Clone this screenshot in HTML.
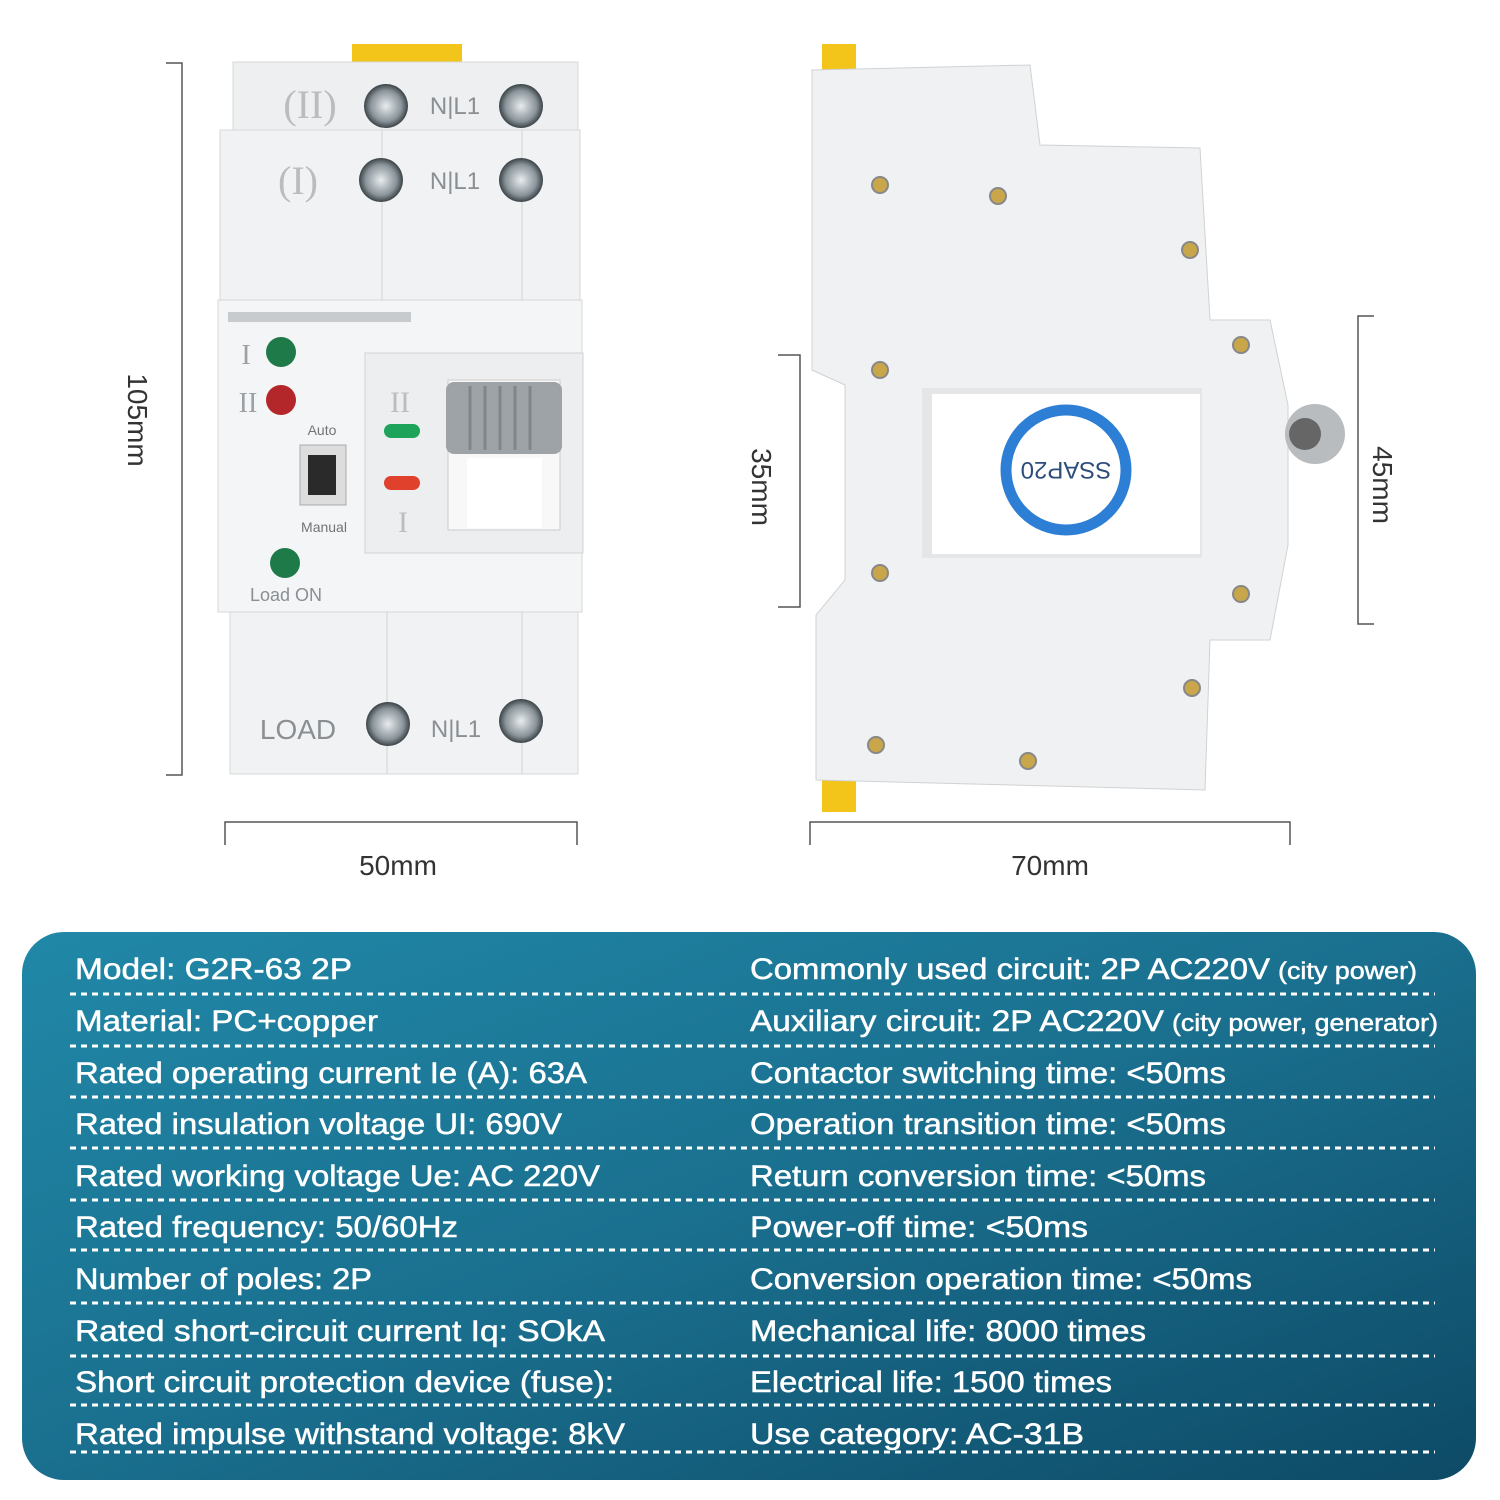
<!DOCTYPE html>
<html><head><meta charset="utf-8"><style>
html,body{margin:0;padding:0;background:#fff}
svg{display:block}
</style></head><body>
<svg width="1500" height="1500" viewBox="0 0 1500 1500" xmlns="http://www.w3.org/2000/svg" font-family="Liberation Sans, sans-serif">
<defs>
<linearGradient id="pg" x1="0" y1="0" x2="1" y2="1">
<stop offset="0" stop-color="#2188a8"/><stop offset="0.5" stop-color="#1a6f8e"/><stop offset="1" stop-color="#0d4a66"/>
</linearGradient>
<radialGradient id="scr"><stop offset="0" stop-color="#e8ecef"/><stop offset="0.7" stop-color="#8a949a"/><stop offset="1" stop-color="#3b4347"/></radialGradient>
</defs>
<rect width="1500" height="1500" fill="#fff"/>

<!-- LEFT DEVICE -->
<rect x="352" y="44" width="110" height="22" fill="#f3c51a"/>
<rect x="233" y="62" width="345" height="70" fill="#eeeff0" stroke="#d6d8da"/>
<rect x="220" y="130" width="360" height="172" fill="#f1f2f3" stroke="#d6d8da"/>
<line x1="382" y1="130" x2="382" y2="302" stroke="#d0d2d4"/>
<line x1="522" y1="130" x2="522" y2="302" stroke="#d0d2d4"/>
<rect x="218" y="300" width="364" height="312" fill="#f4f5f6" stroke="#d6d8da"/>
<rect x="228" y="312" width="183" height="10" fill="#c7cbce"/>
<rect x="365" y="353" width="218" height="200" fill="#eceeef" stroke="#d0d2d4"/>
<rect x="448" y="380" width="112" height="150" fill="#f8f8f8" stroke="#ccc"/>
<rect x="467" y="458" width="75" height="70" fill="#fff"/>
<rect x="446" y="382" width="116" height="72" rx="8" fill="#9ea3a7"/>
<g stroke="#80868a" stroke-width="3"><line x1="470" y1="386" x2="470" y2="450"/><line x1="485" y1="386" x2="485" y2="450"/><line x1="500" y1="386" x2="500" y2="450"/><line x1="515" y1="386" x2="515" y2="450"/><line x1="530" y1="386" x2="530" y2="450"/></g>
<rect x="384" y="424" width="36" height="14" rx="7" fill="#1ea45a"/>
<rect x="384" y="476" width="36" height="14" rx="7" fill="#e0412d"/>
<text x="400" y="412" font-family="Liberation Serif, serif" font-size="30" fill="#b9bdc0" text-anchor="middle">II</text>
<text x="403" y="532" font-family="Liberation Serif, serif" font-size="30" fill="#b9bdc0" text-anchor="middle">I</text>
<circle cx="281" cy="352" r="15" fill="#1f7a4a"/><circle cx="281" cy="400" r="15" fill="#b3262a"/>
<circle cx="285" cy="563" r="15" fill="#1f7a4a"/>
<text x="246" y="364" font-family="Liberation Serif, serif" font-size="28" fill="#9aa0a4" text-anchor="middle">I</text>
<text x="248" y="412" font-family="Liberation Serif, serif" font-size="28" fill="#9aa0a4" text-anchor="middle">II</text>
<text x="322" y="435" font-size="14" fill="#707579" text-anchor="middle">Auto</text>
<rect x="300" y="445" width="46" height="60" fill="#ddd" stroke="#aaa"/><rect x="308" y="455" width="28" height="40" fill="#2a2a2a"/>
<text x="324" y="532" font-size="14" fill="#707579" text-anchor="middle">Manual</text>
<text x="286" y="601" font-size="18" fill="#8a8f93" text-anchor="middle">Load ON</text>
<rect x="230" y="612" width="348" height="162" fill="#f1f2f3" stroke="#d6d8da"/>
<line x1="387" y1="612" x2="387" y2="774" stroke="#d0d2d4"/>
<line x1="522" y1="612" x2="522" y2="774" stroke="#d0d2d4"/>
<g font-size="24" fill="#8a8f93">
<text x="310" y="118" font-family="Liberation Serif, serif" font-size="40" fill="#b9bdc0" text-anchor="middle">(II)</text>
<text x="298" y="194" font-family="Liberation Serif, serif" font-size="40" fill="#b9bdc0" text-anchor="middle">(I)</text>
<text x="455" y="114" text-anchor="middle">N|L1</text>
<text x="455" y="189" text-anchor="middle">N|L1</text>
<text x="456" y="737" text-anchor="middle">N|L1</text>
<text x="298" y="739" font-size="28" text-anchor="middle">LOAD</text>
</g>
<g fill="url(#scr)"><circle cx="386" cy="106" r="22"/><circle cx="521" cy="106" r="22"/><circle cx="381" cy="180" r="22"/><circle cx="521" cy="180" r="22"/><circle cx="388" cy="724" r="22"/><circle cx="521" cy="721" r="22"/></g>

<!-- RIGHT DEVICE -->
<rect x="822" y="44" width="34" height="40" fill="#f3c51a"/>
<rect x="822" y="760" width="34" height="52" fill="#f3c51a"/>
<path d="M812 70 L1030 65 L1040 145 L1200 148 L1210 320 L1270 320 L1288 405 L1288 545 L1270 640 L1210 640 L1205 790 L816 780 L816 615 L845 580 L845 385 L812 370 Z" fill="#f0f1f2" stroke="#cfd2d4"/>
<rect x="922" y="388" width="280" height="170" fill="#e4e6e8"/>
<rect x="932" y="394" width="268" height="160" fill="#fff"/>
<circle cx="1066" cy="470" r="60" fill="none" stroke="#2d7fd6" stroke-width="11"/>
<text x="1066" y="478" font-size="24" fill="#2d4e7a" text-anchor="middle" transform="rotate(180 1066 470)">SSAP20</text>
<g fill="#c9a64a" stroke="#888" stroke-width="2"><circle cx="880" cy="185" r="8"/><circle cx="998" cy="196" r="8"/><circle cx="1190" cy="250" r="8"/><circle cx="880" cy="370" r="8"/><circle cx="1241" cy="345" r="8"/><circle cx="880" cy="573" r="8"/><circle cx="1241" cy="594" r="8"/><circle cx="1192" cy="688" r="8"/><circle cx="876" cy="745" r="8"/><circle cx="1028" cy="761" r="8"/></g>
<circle cx="1315" cy="434" r="30" fill="#b8bcbf"/><circle cx="1305" cy="434" r="16" fill="#666"/>

<!-- DIMENSIONS -->
<g stroke="#555" stroke-width="1.5" fill="none">
<path d="M166 63 H182 V775 H166"/>
<path d="M225 845 V822 H577 V845"/>
<path d="M810 845 V822 H1290 V845"/>
<path d="M778 355 H800 V607 H778"/>
<path d="M1374 316 H1358 V624 H1374"/>
</g>
<g font-size="28" fill="#333">
<text x="398" y="875" text-anchor="middle">50mm</text>
<text x="1050" y="875" text-anchor="middle">70mm</text>
<text transform="translate(128 420) rotate(90)" text-anchor="middle">105mm</text>
<text transform="translate(752 487) rotate(90)" text-anchor="middle">35mm</text>
<text transform="translate(1373 485) rotate(90)" text-anchor="middle">45mm</text>
</g>

<!-- PANEL -->
<rect x="22" y="932" width="1454" height="548" rx="42" fill="url(#pg)"/>
<g stroke="#fff" stroke-width="3" stroke-dasharray="6 5">
<line x1="70" y1="994" x2="1435" y2="994"/><line x1="70" y1="1046" x2="1435" y2="1046"/>
<line x1="70" y1="1097" x2="1435" y2="1097"/><line x1="70" y1="1148" x2="1435" y2="1148"/>
<line x1="70" y1="1200" x2="1435" y2="1200"/><line x1="70" y1="1250" x2="1435" y2="1250"/>
<line x1="70" y1="1303" x2="1435" y2="1303"/><line x1="70" y1="1356" x2="1435" y2="1356"/>
<line x1="70" y1="1405" x2="1435" y2="1405"/><line x1="70" y1="1452" x2="1435" y2="1452"/>
</g>
<g fill="#fff" font-size="30" stroke="#fff" stroke-width="0.5">
<text x="75" y="979" textLength="277" lengthAdjust="spacingAndGlyphs">Model: G2R-63 2P</text>
<text x="75" y="1031" textLength="303" lengthAdjust="spacingAndGlyphs">Material: PC+copper</text>
<text x="75" y="1083" textLength="512" lengthAdjust="spacingAndGlyphs">Rated operating current Ie (A): 63A</text>
<text x="75" y="1134" textLength="487" lengthAdjust="spacingAndGlyphs">Rated insulation voltage UI: 690V</text>
<text x="75" y="1186" textLength="525" lengthAdjust="spacingAndGlyphs">Rated working voltage Ue: AC 220V</text>
<text x="75" y="1237" textLength="383" lengthAdjust="spacingAndGlyphs">Rated frequency: 50/60Hz</text>
<text x="75" y="1289" textLength="297" lengthAdjust="spacingAndGlyphs">Number of poles: 2P</text>
<text x="75" y="1341" textLength="530" lengthAdjust="spacingAndGlyphs">Rated short-circuit current Iq: SOkA</text>
<text x="75" y="1392" textLength="539" lengthAdjust="spacingAndGlyphs">Short circuit protection device (fuse):</text>
<text x="75" y="1444" textLength="550" lengthAdjust="spacingAndGlyphs">Rated impulse withstand voltage: 8kV</text>
<text x="750" y="979" textLength="520" lengthAdjust="spacingAndGlyphs">Commonly used circuit: 2P AC220V</text>
<text x="1278" y="979" font-size="24" textLength="139" lengthAdjust="spacingAndGlyphs">(city power)</text>
<text x="750" y="1031" textLength="414" lengthAdjust="spacingAndGlyphs">Auxiliary circuit: 2P AC220V</text>
<text x="1172" y="1031" font-size="24" textLength="266" lengthAdjust="spacingAndGlyphs">(city power, generator)</text>
<text x="750" y="1083" textLength="476" lengthAdjust="spacingAndGlyphs">Contactor switching time: &lt;50ms</text>
<text x="750" y="1134" textLength="476" lengthAdjust="spacingAndGlyphs">Operation transition time: &lt;50ms</text>
<text x="750" y="1186" textLength="456" lengthAdjust="spacingAndGlyphs">Return conversion time: &lt;50ms</text>
<text x="750" y="1237" textLength="338" lengthAdjust="spacingAndGlyphs">Power-off time: &lt;50ms</text>
<text x="750" y="1289" textLength="502" lengthAdjust="spacingAndGlyphs">Conversion operation time: &lt;50ms</text>
<text x="750" y="1341" textLength="396" lengthAdjust="spacingAndGlyphs">Mechanical life: 8000 times</text>
<text x="750" y="1392" textLength="362" lengthAdjust="spacingAndGlyphs">Electrical life: 1500 times</text>
<text x="750" y="1444" textLength="334" lengthAdjust="spacingAndGlyphs">Use category: AC-31B</text>
</g>
</svg>
</body></html>
